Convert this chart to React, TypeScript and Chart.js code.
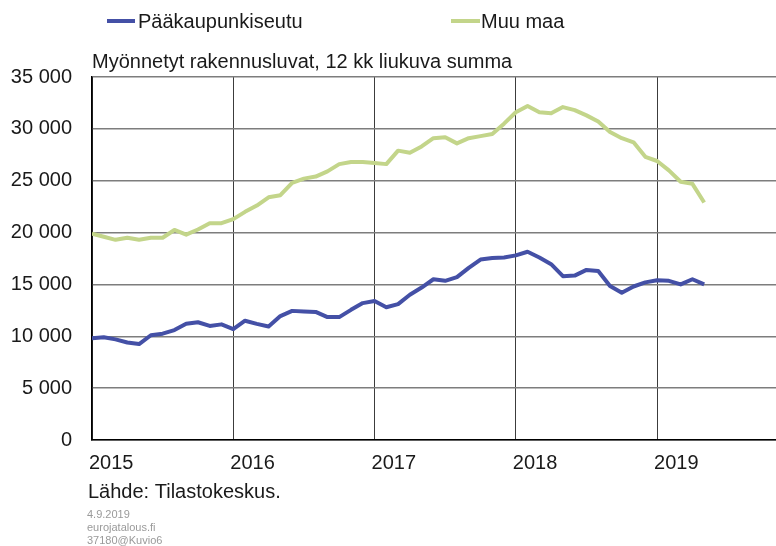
import React, { useEffect, useRef } from "react";
import { Chart, registerables } from "chart.js";

Chart.register(...registerables);

// ---- data ----
const seriesNames = ["Pääkaupunkiseutu", "Muu maa"];
const startYear = 2015;
const yearTickMonths = [0, 12, 24, 36, 48];
const yTickValues = [0, 5000, 10000, 15000, 20000, 25000, 30000, 35000];

// Monthly values from Jan 2015 (12-month rolling sum)
const helsinkiRegion = [
  9800, 9900, 9700, 9400, 9250, 10100, 10250, 10600, 11200, 11350, 11000, 11150,
  10700, 11500, 11200, 10950, 11950, 12450, 12400, 12350, 11850, 11850, 12550, 13200,
  13400, 12800, 13100, 14000, 14700, 15500, 15350, 15700, 16600, 17400, 17550, 17600,
  17800, 18150, 17600, 16950, 15800, 15850, 16400, 16300, 14850, 14200, 14800, 15200,
  15400, 15350, 15000, 15500, 15000,
];
const restOfCountry = [
  19900, 19600, 19300, 19500, 19300, 19500, 19500, 20250, 19800, 20300, 20900, 20900,
  21300, 22000, 22600, 23400, 23600, 24800, 25200, 25400, 25900, 26600, 26800, 26800,
  26700, 26600, 27900, 27700, 28300, 29100, 29200, 28600, 29100, 29300, 29500, 30500,
  31600, 32200, 31600, 31500, 32100, 31800, 31300, 30700, 29700, 29100, 28700, 27300,
  26900, 26000, 24900, 24700, 22900,
];

const chartTitle = "Myönnetyt rakennusluvat, 12 kk liukuva summa";
const sourceText = "Lähde: Tilastokeskus.";
const footerLines = ["4.9.2019", "eurojatalous.fi", "37180@Kuvio6"];

// ---- styles ----
const BLUE = "#4450a6";
const GREEN = "#c3d58a";
const FONT = "'Liberation Sans', Arial, sans-serif";
const TEXT = "#1a1a1a";

const fmt = (v: number) =>
  String(Math.round(v)).replace(/\B(?=(\d{3})+(?!\d))/g, " ");

const textPlugin = {
  id: "texts",
  afterDraw(chart: any) {
    const ctx = chart.ctx as CanvasRenderingContext2D;
    ctx.save();
    ctx.textBaseline = "middle";
    ctx.textAlign = "left";
    // legend
    const legend = [
      { name: seriesNames[0], color: BLUE, x0: 107, x1: 135, tx: 138 },
      { name: seriesNames[1], color: GREEN, x0: 451, x1: 480, tx: 481 },
    ];
    for (const l of legend) {
      ctx.strokeStyle = l.color;
      ctx.lineWidth = 4;
      ctx.lineCap = "butt";
      ctx.beginPath();
      ctx.moveTo(l.x0, 21);
      ctx.lineTo(l.x1, 21);
      ctx.stroke();
      ctx.fillStyle = TEXT;
      ctx.font = `20px ${FONT}`;
      ctx.fillText(l.name, l.tx, 22);
    }
    // title
    ctx.font = `20px ${FONT}`;
    ctx.fillStyle = TEXT;
    ctx.fillText(chartTitle, 92, 62);
    // source
    ctx.fillText(sourceText, 88, 492);
    // footer
    ctx.font = `11px ${FONT}`;
    ctx.fillStyle = "#9a9a9a";
    footerLines.forEach((t, i) => ctx.fillText(t, 87, 515 + i * 13));
    ctx.restore();
  },
};

export default function App() {
  const ref = useRef<HTMLCanvasElement | null>(null);

  useEffect(() => {
    if (!ref.current) return;
    const chart = new Chart(ref.current, {
      type: "line",
      data: {
        datasets: [
          {
            label: seriesNames[0],
            data: helsinkiRegion.map((y, i) => ({ x: i, y })),
            borderColor: BLUE,
            backgroundColor: BLUE,
            borderWidth: 4,
            pointRadius: 0,
            tension: 0,
            borderJoinStyle: "round",
            borderCapStyle: "butt",
          },
          {
            label: seriesNames[1],
            data: restOfCountry.map((y, i) => ({ x: i, y })),
            borderColor: GREEN,
            backgroundColor: GREEN,
            borderWidth: 4,
            pointRadius: 0,
            tension: 0,
            borderJoinStyle: "round",
            borderCapStyle: "butt",
          },
        ],
      },
      options: {
        responsive: false,
        animation: false,
        devicePixelRatio: 1,
        layout: { padding: { top: 77, right: 0, bottom: 66, left: 0 } },
        plugins: {
          legend: { display: false },
          title: { display: false },
          tooltip: { enabled: false },
        },
        scales: {
          x: {
            type: "linear",
            min: 0,
            max: 58.1,
            afterBuildTicks: (scale: any) => {
              scale.ticks = yearTickMonths.map((v) => ({ value: v }));
            },
            afterFit: (scale: any) => {
              scale.height = 40;
            },
            ticks: {
              callback: (v: any) => String(startYear + Number(v) / 12),
              align: "start",
              labelOffset: -3,
              padding: 11,
              autoSkip: false,
              maxRotation: 0,
              color: TEXT,
              font: { family: FONT, size: 20 },
            },
            grid: { color: "#3c3c3c", lineWidth: 1, drawTicks: false },
            border: { color: "#000", width: 1.5 },
          },
          y: {
            min: 0,
            max: 35000,
            afterBuildTicks: (scale: any) => {
              scale.ticks = yTickValues.map((v) => ({ value: v }));
            },
            afterFit: (scale: any) => {
              scale.width = 92;
            },
            ticks: {
              callback: (v: any) => fmt(Number(v)),
              padding: 20,
              color: TEXT,
              font: { family: FONT, size: 20 },
            },
            grid: { color: "#7d7d7d", lineWidth: 1.5, drawTicks: false },
            border: { color: "#000", width: 1.5 },
          },
        },
      },
      plugins: [textPlugin],
    } as any);
    return () => chart.destroy();
  }, []);

  return (
    <div style={{ position: "fixed", left: 0, top: 0, width: 776, height: 546, background: "#fff" }}>
      <canvas ref={ref} width={776} height={546} style={{ width: 776, height: 546, display: "block" }} />
    </div>
  );
}
